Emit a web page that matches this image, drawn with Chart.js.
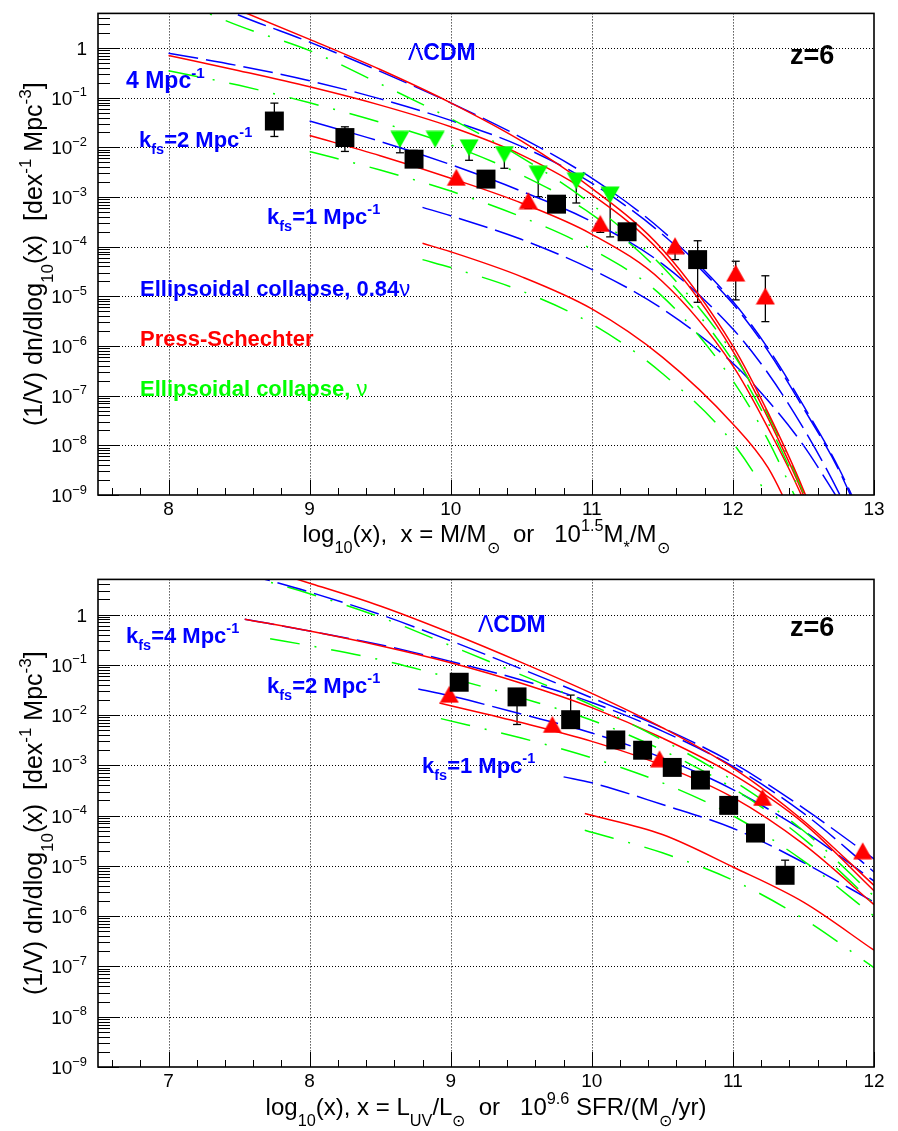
<!DOCTYPE html>
<html>
<head>
<meta charset="UTF-8">
<title>z=6 mass and UV luminosity functions</title>
<script src="https://cdn.jsdelivr.net/npm/chart.js@4.4.1/dist/chart.umd.min.js"></script>
<style>
  html, body { margin: 0; padding: 0; background: #fff; }
  #wrap { position: relative; width: 898px; height: 1131px; }
  canvas { position: absolute; left: 0; }
  #topChart { top: 0; }
  #botChart { top: 566px; }
</style>
</head>
<body>
<div id="wrap">
  <canvas id="topChart" width="898" height="566"></canvas>
  <canvas id="botChart" width="898" height="565"></canvas>
</div>
<script>
// ---------- top panel: x = log10(M/Msun) ----------
// LCDM
const topX_lcdm    = [8.0, 8.5, 9.0, 9.5, 10.0, 10.5, 11.0, 11.5, 12.0, 12.25, 12.5, 12.75, 13.0];
const topPS_lcdm   = [2.2e1, 5.8e0, 1.5e0, 3.7e-1, 7.9e-2, 1.35e-2, 1.5e-3, 8.9e-5, 1.0e-6, 4.5e-8, 1.26e-9, 1.6e-11];
const topEC84_lcdm = [2.0e1, 4.6e0, 1.32e0, 3.4e-1, 7.9e-2, 1.58e-2, 2.4e-3, 2.1e-4, 7.9e-6, 8.9e-7, 6.3e-8, 3.5e-9, 1.0e-10];
const topECnu_lcdm = [1.1e1, 2.8e0, 8.9e-1, 1.9e-1, 3.8e-2, 6.3e-3, 7.1e-4, 4.0e-5, 7.1e-7, 4.0e-8, 1.12e-9, 1.6e-11];
// k_fs = 4 Mpc^-1
const topX_k4    = [8.0, 8.5, 9.0, 9.5, 10.0, 10.5, 11.0, 11.5, 12.0, 12.25, 12.5, 12.75, 13.0];
const topPS_k4   = [7.1e-1, 3.5e-1, 1.66e-1, 7.1e-2, 2.6e-2, 7.1e-3, 1.12e-3, 7.1e-5, 7.9e-7, 3.5e-8, 1.0e-9, 1.26e-11];
const topEC84_k4 = [7.9e-1, 4.4e-1, 2.2e-1, 9.5e-2, 3.5e-2, 1.05e-2, 1.9e-3, 1.78e-4, 7.1e-6, 7.9e-7, 5.6e-8, 3.2e-9, 7.9e-11];
const topECnu_k4 = [3.5e-1, 1.78e-1, 7.9e-2, 3.2e-2, 1.12e-2, 2.8e-3, 4.5e-4, 2.8e-5, 5.0e-7, 2.8e-8, 7.9e-10, 1.0e-11];
// k_fs = 2 Mpc^-1
const topX_k2    = [9.0, 9.5, 10.0, 10.5, 11.0, 11.5, 12.0, 12.25, 12.5, 12.75, 13.0];
const topPS_k2   = [1.74e-2, 6.8e-3, 2.4e-3, 7.6e-4, 1.78e-4, 2.0e-5, 4.0e-7, 2.2e-8, 7.9e-10, 1.0e-11];
const topEC84_k2 = [3.4e-2, 1.32e-2, 4.5e-3, 1.32e-3, 3.2e-4, 4.5e-5, 2.2e-6, 2.8e-7, 2.2e-8, 1.12e-9, 3.2e-11];
const topECnu_k2 = [8.3e-3, 3.5e-3, 1.32e-3, 4.0e-4, 8.9e-5, 1.0e-5, 2.0e-7, 1.26e-8, 4.0e-10];
// k_fs = 1 Mpc^-1
const topX_k1    = [9.8, 10.0, 10.5, 11.0, 11.5, 12.0, 12.25, 12.5, 12.75];
const topPS_k1   = [1.17e-4, 7.9e-5, 2.5e-5, 5.6e-6, 6.0e-7, 2.7e-8, 3.5e-9, 1.26e-10];
const topEC84_k1 = [6.2e-4, 4.2e-4, 1.41e-4, 3.5e-5, 5.6e-6, 4.5e-7, 7.9e-8, 1.0e-8, 7.9e-10];
const topECnu_k1 = [5.5e-5, 3.8e-5, 1.29e-5, 2.8e-6, 2.8e-7, 1.12e-8, 8.9e-10, 3.2e-11];

// measured points, top panel
const topSqX  = [8.75, 9.25, 9.74, 10.25, 10.75, 11.25, 11.75];
const topSqY  = [3.4e-2, 1.58e-2, 5.8e-3, 2.3e-3, 7.2e-4, 2.0e-4, 5.5e-5];
const topSqLo = [1.66e-2, 8.3e-3, null, null, null, null, 7.6e-6];
const topSqHi = [7.8e-2, 2.6e-2, 8.7e-3, null, null, null, 1.32e-4];
const topTriX  = [10.04, 10.55, 11.06, 11.59, 12.02, 12.23];
const topTriY  = [2.5e-3, 8.5e-4, 2.95e-4, 1.05e-4, 2.95e-5, 1.02e-5];
const topTriLo = [null, 5.9e-4, 1.95e-4, 5.5e-5, 8.5e-6, 3.1e-6];
const topTriHi = [null, null, null, null, 5.1e-5, 2.6e-5];
const topInvX  = [9.64, 9.89, 10.13, 10.38, 10.62, 10.89, 11.13];
const topInvY  = [1.45e-2, 1.45e-2, 9.8e-3, 7.2e-3, 2.9e-3, 2.1e-3, 1.1e-3];
const topInvLo = [7.8e-3, null, 5.5e-3, 3.8e-3, 1.02e-3, 7.6e-4, 1.58e-4];
const topInvHi = [2.0e-2, null, null, null, null, null, null];

// ---------- bottom panel: x = log10(L_UV/Lsun) ----------
const botX_lcdm    = [7.0, 7.5, 8.0, 8.5, 9.0, 9.5, 10.0, 10.5, 11.0, 11.5, 12.0];
const botPS_lcdm   = [2.8e1, 1.12e1, 4.2e0, 1.48e0, 4.3e-1, 1.12e-1, 2.7e-2, 5.6e-3, 8.9e-4, 7.9e-5, 4.1e-6];
const botEC84_lcdm = [2.0e1, 7.1e0, 2.8e0, 1.0e0, 3.0e-1, 8.3e-2, 2.2e-2, 5.6e-3, 1.12e-3, 1.41e-4, 1.38e-5];
const botECnu_lcdm = [1.78e1, 6.6e0, 2.6e0, 8.9e-1, 2.4e-1, 6.3e-2, 1.58e-2, 3.2e-3, 5.0e-4, 5.0e-5, 2.5e-6];
const botX_k4    = [7.54, 8.0, 8.5, 9.0, 9.5, 10.0, 10.5, 11.0, 11.5, 12.0];
const botPS_k4   = [8.1e-1, 4.7e-1, 2.4e-1, 1.1e-1, 4.3e-2, 1.41e-2, 3.5e-3, 6.6e-4, 7.1e-5, 3.2e-6];
const botEC84_k4 = [8.1e-1, 4.7e-1, 2.5e-1, 1.17e-1, 5.0e-2, 1.78e-2, 4.8e-3, 9.5e-4, 1.12e-4, 7.6e-6];
const botXnu_k4  = [7.72, 8.0, 8.5, 9.0, 9.5, 10.0, 10.5, 11.0, 11.5, 12.0];
const botECnu_k4 = [3.3e-1, 2.4e-1, 1.26e-1, 5.5e-2, 2.2e-2, 7.9e-3, 2.0e-3, 3.5e-4, 3.5e-5, 1.78e-6];
const botXps_k2  = [8.92, 9.5, 10.0, 10.5, 11.0, 11.5, 12.0];
const botPS_k2   = [1.74e-2, 7.1e-3, 3.0e-3, 1.0e-3, 2.3e-4, 2.7e-5, 1.7e-6];
const botX84_k2  = [8.77, 9.0, 9.5, 10.0, 10.5, 11.0, 11.5, 12.0];
const botEC84_k2 = [3.3e-2, 2.4e-2, 1.05e-2, 4.4e-3, 1.41e-3, 3.3e-4, 5.0e-5, 5.0e-6];
const botXnu_k2  = [8.93, 9.5, 10.0, 10.5, 11.0, 11.5, 12.0];
const botECnu_k2 = [8.5e-3, 3.5e-3, 1.41e-3, 4.5e-4, 1.0e-4, 1.26e-5, 1.0e-6];
const botXps_k1  = [9.95, 10.5, 11.0, 11.5, 12.0];
const botPS_k1   = [1.1e-4, 4.2e-5, 9.5e-6, 1.9e-6, 2.1e-7];
const botX84_k1  = [9.8, 10.0, 10.5, 11.0, 11.5, 12.0];
const botEC84_k1 = [5.9e-4, 4.5e-4, 1.66e-4, 5.6e-5, 1.17e-5, 1.9e-6];
const botXnu_k1  = [9.95, 10.5, 11.0, 11.5, 12.0];
const botECnu_k1 = [5.1e-5, 1.82e-5, 5.2e-6, 8.9e-7, 9.5e-8];

const botSqX  = [9.06, 9.47, 9.85, 10.17, 10.36, 10.57, 10.77, 10.97, 11.16, 11.37];
const botSqY  = [4.5e-2, 2.3e-2, 8.1e-3, 3.2e-3, 2.0e-3, 9.1e-4, 5.1e-4, 1.6e-4, 4.5e-5, 6.5e-6];
const botSqLo = [null, 6.5e-3, null, null, null, null, null, null, null, null];
const botSqHi = [null, null, 2.5e-2, null, null, null, null, null, null, 1.3e-5];
const botTriX = [8.99, 9.72, 10.48, 11.21, 11.92];
const botTriY = [2.6e-2, 6.5e-3, 1.35e-3, 2.3e-4, 2.0e-5];

// axes
const yDecades = [1e-9, 1e-8, 1e-7, 1e-6, 1e-5, 1e-4, 1e-3, 1e-2, 1e-1, 1];
const topXTicks = [8, 9, 10, 11, 12, 13];
const botXTicks = [7, 8, 9, 10, 11, 12];

const BLUE = '#0000ff', RED = '#ff0000', GREEN = '#00ff00';
const FONT = "'Liberation Sans', Arial, Helvetica, sans-serif";

// text with sub/superscripts, parts = [text, 'sub'|'sup'|'', weight]
function rich(ctx, parts, x, y, size, o) {
  const small = size * (o.small || 0.68);
  const items = parts.map(p => {
    const kind = p[1] || '';
    const weight = p[2] !== undefined ? p[2] : (o.bold ? 'bold' : 'normal');
    const fs = kind ? small : size;
    const font = weight + ' ' + fs.toFixed(1) + 'px ' + FONT;
    ctx.font = font;
    const dy = kind === 'sup' ? -size * (o.rise || 0.42) : kind === 'sub' ? size * (o.drop || 0.3) : 0;
    return { text: p[0], font, dy, w: ctx.measureText(p[0]).width };
  });
  const total = items.reduce((s, it) => s + it.w, 0);
  let cx = o.align === 'center' ? x - total / 2 : o.align === 'right' ? x - total : x;
  ctx.fillStyle = o.color || '#000';
  ctx.textAlign = 'left';
  ctx.textBaseline = 'alphabetic';
  items.forEach(it => { ctx.font = it.font; ctx.fillText(it.text, cx, y + it.dy); cx += it.w; });
}

function seg(ctx, x1, y1, x2, y2) {
  ctx.beginPath(); ctx.moveTo(x1, y1); ctx.lineTo(x2, y2); ctx.stroke();
}

const panelPlugin = {
  id: 'panel',
  beforeDatasetsDraw(chart, args, o) {
    const ctx = chart.ctx, a = chart.chartArea, xs = chart.scales.x, ys = chart.scales.y;
    ctx.save();
    // dotted grid
    ctx.strokeStyle = '#000'; ctx.lineWidth = 1; ctx.setLineDash([1, 2]);
    o.xTicks.forEach(v => {
      const px = Math.round(xs.getPixelForValue(v)) + 0.5;
      if (px < a.right - 2) seg(ctx, px, a.top, px, a.bottom);
    });
    yDecades.forEach(v => {
      const py = Math.round(ys.getPixelForValue(v)) + 0.5;
      if (py < a.bottom - 2) seg(ctx, a.left, py, a.right, py);
    });
    ctx.setLineDash([]);
    // error bars
    ctx.lineWidth = 1.3; ctx.strokeStyle = '#000';
    o.errors.forEach(e => {
      e.x.forEach((xv, i) => {
        const px = xs.getPixelForValue(xv), py = ys.getPixelForValue(e.y[i]);
        [e.lo[i], e.hi[i]].forEach(b => {
          if (b == null) return;
          const pb = ys.getPixelForValue(b);
          seg(ctx, px, py, px, pb);
          seg(ctx, px - 4, pb, px + 4, pb);
        });
      });
    });
    ctx.restore();
  },
  afterDatasetsDraw(chart, args, o) {
    const ctx = chart.ctx, a = chart.chartArea, xs = chart.scales.x, ys = chart.scales.y;
    ctx.save();
    ctx.strokeStyle = '#000'; ctx.lineWidth = 1;
    // y ticks (log, inward)
    yDecades.forEach(d => {
      const py = Math.round(ys.getPixelForValue(d)) + 0.5;
      seg(ctx, a.left, py, a.left + 21, py);
      for (let m = 2; m <= 9; m++) {
        const v = d * m;
        if (v >= ys.max) break;
        const pm = Math.round(ys.getPixelForValue(v)) + 0.5;
        seg(ctx, a.left, pm, a.left + 12, pm);
      }
    });
    // x ticks
    o.xTicks.forEach(v => {
      const px = Math.round(xs.getPixelForValue(v)) + 0.5;
      seg(ctx, px, a.bottom, px, a.bottom - 15);
    });
    for (let k = Math.ceil(xs.min * 5); k <= Math.floor(xs.max * 5); k++) {
      if (k % 5 === 0) continue;
      const px = Math.round(xs.getPixelForValue(k / 5)) + 0.5;
      seg(ctx, px, a.bottom, px, a.bottom - 7);
    }
    // frame
    ctx.lineWidth = 1.6;
    ctx.strokeRect(a.left, a.top, a.right - a.left, a.bottom - a.top);
    // tick labels
    o.xTicks.forEach(v => {
      rich(ctx, [[String(v)]], xs.getPixelForValue(v), a.bottom + 20, 19, { align: 'center' });
    });
    yDecades.forEach(d => {
      const py = ys.getPixelForValue(d) + 7;
      const e = Math.round(Math.log10(d));
      const parts = e === 0 ? [['1']] : [['10'], ['\u2212' + (-e), 'sup']];
      rich(ctx, parts, 87, py, 19, { align: 'right', rise: 0.44 });
    });
    // axis titles
    rich(ctx, o.xTitle, (a.left + a.right) / 2, o.xTitleY, 24, { align: 'center', drop: 0.45, rise: 0.45 });
    ctx.save();
    ctx.translate(42, (a.top + a.bottom) / 2);
    ctx.rotate(-Math.PI / 2);
    rich(ctx, o.yTitle, 0, 0, 25, { align: 'center', drop: 0.45, rise: 0.45 });
    ctx.restore();
    // in-plot labels
    o.notes.forEach(n => rich(ctx, n.parts, n.x, n.y, n.size, { bold: true, color: n.color, drop: 0.32, rise: 0.45, small: 0.66 }));
    ctx.restore();
  }
};

function markerImage(color, inverted) {
  const c = document.createElement('canvas');
  c.width = 20; c.height = 18;
  const g = c.getContext('2d');
  g.fillStyle = color;
  g.beginPath();
  if (inverted) { g.moveTo(0.5, 0.5); g.lineTo(19.5, 0.5); g.lineTo(10, 17.5); }
  else { g.moveTo(0.5, 17.5); g.lineTo(19.5, 17.5); g.lineTo(10, 0.5); }
  g.closePath(); g.fill();
  return c;
}
const triUp = markerImage(RED, false);
const triDown = markerImage(GREEN, true);

function curve(xv, yv, color, kind) {
  const dash = kind === 'ps' ? [] : kind === 'ec84' ? [30, 8] : [30, 15, 2, 15];
  return {
    data: yv.map((y, i) => ({ x: xv[i], y })),
    borderColor: color, backgroundColor: color, borderWidth: 1.5, borderDash: dash,
    pointRadius: 0, cubicInterpolationMode: 'monotone', fill: false, order: 2
  };
}
function markers(xv, yv, style, color, radius) {
  return {
    data: yv.map((y, i) => ({ x: xv[i], y })),
    showLine: false, pointStyle: style, pointRadius: radius, pointBorderWidth: 0,
    backgroundColor: color, borderColor: color, order: 0, clip: false
  };
}

function makeChart(id, cfg) {
  return new Chart(document.getElementById(id), {
    type: 'line',
    data: { datasets: cfg.datasets },
    options: {
      responsive: false, animation: false, events: [], devicePixelRatio: 1,
      layout: { padding: cfg.padding },
      scales: {
        x: { type: 'linear', min: cfg.xMin, max: cfg.xMax, display: false },
        y: { type: 'logarithmic', min: 1e-9, max: 5, display: false }
      },
      plugins: { legend: { display: false }, tooltip: { enabled: false }, panel: cfg.panel }
    },
    plugins: [panelPlugin]
  });
}

const mpc = (pre) => [[pre[0]], [pre[1], 'sub'], [pre[2]], ['-1', 'sup']];

makeChart('topChart', {
  xMin: 7.5, xMax: 13,
  padding: { left: 98, right: 24, top: 7, bottom: 71 },
  datasets: [
    markers(topSqX, topSqY, 'rect', '#000', 13.4),
    markers(topTriX, topTriY, triUp, RED, 10),
    markers(topInvX, topInvY, triDown, GREEN, 10),
    curve(topX_lcdm, topPS_lcdm, RED, 'ps'),
    curve(topX_lcdm, topEC84_lcdm, BLUE, 'ec84'),
    curve(topX_lcdm, topECnu_lcdm, GREEN, 'ecnu'),
    curve(topX_k4, topPS_k4, RED, 'ps'),
    curve(topX_k4, topEC84_k4, BLUE, 'ec84'),
    curve(topX_k4, topECnu_k4, GREEN, 'ecnu'),
    curve(topX_k2, topPS_k2, RED, 'ps'),
    curve(topX_k2, topEC84_k2, BLUE, 'ec84'),
    curve(topX_k2, topECnu_k2, GREEN, 'ecnu'),
    curve(topX_k1, topPS_k1, RED, 'ps'),
    curve(topX_k1, topEC84_k1, BLUE, 'ec84'),
    curve(topX_k1, topECnu_k1, GREEN, 'ecnu')
  ],
  panel: {
    xTicks: topXTicks,
    errors: [
      { x: topSqX, y: topSqY, lo: topSqLo, hi: topSqHi },
      { x: topTriX, y: topTriY, lo: topTriLo, hi: topTriHi },
      { x: topInvX, y: topInvY, lo: topInvLo, hi: topInvHi }
    ],
    xTitleY: 542,
    xTitle: [['log'], ['10', 'sub'], ['(x),  x = M/M'], ['\u2299', 'sub'], ['  or   10'], ['1.5', 'sup'], ['M'], ['*', 'sub'], ['/M'], ['\u2299', 'sub']],
    yTitle: [['(1/V) dn/dlog'], ['10', 'sub'], ['(x)  [dex'], ['-1', 'sup'], [' Mpc'], ['-3', 'sup'], [']']],
    notes: [
      { parts: [['\u039B', '', 'normal'], ['CDM']], x: 408, y: 60, size: 23, color: BLUE },
      { parts: [['z=6']], x: 790, y: 64, size: 27, color: '#000' },
      { parts: [['4 Mpc'], ['-1', 'sup']], x: 126, y: 88, size: 23, color: BLUE },
      { parts: mpc(['k', 'fs', '=2 Mpc']), x: 139, y: 147, size: 22, color: BLUE },
      { parts: mpc(['k', 'fs', '=1 Mpc']), x: 267, y: 224, size: 22, color: BLUE },
      { parts: [['Ellipsoidal collapse, 0.84'], ['\u03BD', '', 'normal']], x: 140, y: 296, size: 22, color: BLUE },
      { parts: [['Press-Schechter']], x: 140, y: 346, size: 22, color: RED },
      { parts: [['Ellipsoidal collapse, '], ['\u03BD', '', 'normal']], x: 140, y: 396, size: 22, color: GREEN }
    ]
  }
});

makeChart('botChart', {
  xMin: 6.5, xMax: 12,
  padding: { left: 98, right: 24, top: 13, bottom: 64 },
  datasets: [
    markers(botSqX, botSqY, 'rect', '#000', 13.4),
    markers(botTriX, botTriY, triUp, RED, 10),
    curve(botX_lcdm, botPS_lcdm, RED, 'ps'),
    curve(botX_lcdm, botEC84_lcdm, BLUE, 'ec84'),
    curve(botX_lcdm, botECnu_lcdm, GREEN, 'ecnu'),
    curve(botX_k4, botPS_k4, RED, 'ps'),
    curve(botX_k4, botEC84_k4, BLUE, 'ec84'),
    curve(botXnu_k4, botECnu_k4, GREEN, 'ecnu'),
    curve(botXps_k2, botPS_k2, RED, 'ps'),
    curve(botX84_k2, botEC84_k2, BLUE, 'ec84'),
    curve(botXnu_k2, botECnu_k2, GREEN, 'ecnu'),
    curve(botXps_k1, botPS_k1, RED, 'ps'),
    curve(botX84_k1, botEC84_k1, BLUE, 'ec84'),
    curve(botXnu_k1, botECnu_k1, GREEN, 'ecnu')
  ],
  panel: {
    xTicks: botXTicks,
    errors: [
      { x: botSqX, y: botSqY, lo: botSqLo, hi: botSqHi }
    ],
    xTitleY: 549,
    xTitle: [['log'], ['10', 'sub'], ['(x), x = L'], ['UV', 'sub'], ['/L'], ['\u2299', 'sub'], ['  or   10'], ['9.6', 'sup'], [' SFR/(M'], ['\u2299', 'sub'], ['/yr)']],
    yTitle: [['(1/V) dn/dlog'], ['10', 'sub'], ['(x)  [dex'], ['-1', 'sup'], [' Mpc'], ['-3', 'sup'], [']']],
    notes: [
      { parts: [['\u039B', '', 'normal'], ['CDM']], x: 478, y: 66, size: 23, color: BLUE },
      { parts: [['z=6']], x: 790, y: 70, size: 27, color: '#000' },
      { parts: mpc(['k', 'fs', '=4 Mpc']), x: 126, y: 77, size: 22, color: BLUE },
      { parts: mpc(['k', 'fs', '=2 Mpc']), x: 267, y: 127, size: 22, color: BLUE },
      { parts: mpc(['k', 'fs', '=1 Mpc']), x: 422, y: 207, size: 22, color: BLUE }
    ]
  }
});
</script>
</body>
</html>
